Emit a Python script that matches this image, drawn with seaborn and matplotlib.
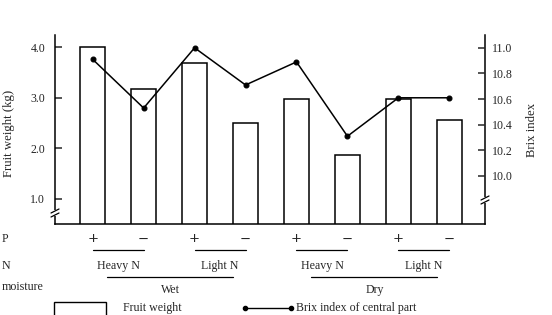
import matplotlib
matplotlib.use("Agg")
import matplotlib.pyplot as plt
import matplotlib.transforms as mtransforms
from matplotlib.patches import Rectangle
from matplotlib.lines import Line2D
import seaborn as sns
import pandas as pd
import numpy as np

# ---- data ----
categories = ["Wet-HeavyN-P+", "Wet-HeavyN-P-", "Wet-LightN-P+", "Wet-LightN-P-",
              "Dry-HeavyN-P+", "Dry-HeavyN-P-", "Dry-LightN-P+", "Dry-LightN-P-"]
fruit_weight = [4.00, 3.18, 3.69, 2.49, 2.97, 1.86, 2.97, 2.56]
brix_index = [10.91, 10.53, 11.00, 10.71, 10.89, 10.31, 10.61, 10.61]
p_labels = ["+", "−", "+", "−", "+", "−", "+", "−"]
n_labels = ["Heavy N", "Light N", "Heavy N", "Light N"]
moisture_labels = ["Wet", "Dry"]
left_ticks = [1.0, 2.0, 3.0, 4.0]
right_ticks = [10.0, 10.2, 10.4, 10.6, 10.8, 11.0]

df = pd.DataFrame({"cat": categories, "weight": fruit_weight, "brix": brix_index})

sns.set_style("white")
plt.rcParams["font.family"] = ["Liberation Serif", "DejaVu Serif"]

FS = 8.6
W, H = 552, 315
fig = plt.figure(figsize=(W / 100, H / 100), dpi=100)
ax = fig.add_axes([55 / W, 1 - 224 / H, (485 - 55) / W, (224 - 35) / H])

sns.barplot(data=df, x="cat", y="weight", ax=ax, color="white",
            edgecolor="black", linewidth=1.1, width=0.5, order=categories)
ax.set_ylim(0.5, 4.24)
ax.set_xlim(-0.74, 7.70)
ax.set_yticks(left_ticks)
ax.set_yticklabels([f"{v:.1f}" for v in left_ticks], fontsize=FS)
ax.set_xticks([])
ax.set_xlabel("")
ax.set_ylabel("Fruit weight (kg)", fontsize=9.2)
ax.yaxis.set_label_coords(-0.094, 0.48)
ax.tick_params(axis="y", direction="in", length=5, width=1.1, pad=7, left=True)
for s in ["left", "bottom", "right"]:
    ax.spines[s].set_visible(True)
    ax.spines[s].set_linewidth(1.1)
    ax.spines[s].set_color("black")
ax.spines["top"].set_visible(False)

ax2 = ax.twinx()
sns.pointplot(data=df, x="cat", y="brix", ax=ax2, color="black",
              markers="o", markersize=3.5, linewidth=1.1, order=categories)
ax2.set_ylim(9.625, 11.10)
ax2.set_xlim(-0.74, 7.70)
ax2.set_yticks(right_ticks)
ax2.set_yticklabels([f"{v:.1f}" for v in right_ticks], fontsize=FS)
ax2.set_ylabel("Brix index", fontsize=9.2)
ax2.yaxis.set_label_coords(1.095, 0.5)
ax2.tick_params(axis="y", direction="in", length=5, width=1.1, pad=5, right=True)
for s in ax2.spines.values():
    s.set_visible(False)
ax2.set_xlabel("")

# axis breaks
def fx(px):
    return px / W

def fy(py):
    return 1 - py / H

for (xp, yp) in [(55, 213), (485, 200)]:
    fig.patches.append(Rectangle((fx(xp - 3), fy(yp + 3)), 6 / W, 6 / H,
                                 transform=fig.transFigure, facecolor="white",
                                 edgecolor="none", zorder=5))
    for dy in (-2, 2):
        fig.lines.append(Line2D([fx(xp - 4), fx(xp + 4)],
                                [fy(yp + dy + 2), fy(yp + dy - 2)],
                                transform=fig.transFigure, color="black",
                                linewidth=0.9, zorder=6))

# category table under the axis
tr = mtransforms.blended_transform_factory(ax.transData, fig.transFigure)
for i, lab in enumerate(p_labels):
    fig.text(i, fy(239), lab, transform=tr, ha="center", va="center", fontsize=9.5,
             family=["DejaVu Sans"])
for k in range(4):
    fig.lines.append(Line2D([2 * k, 2 * k + 1], [fy(250), fy(250)],
                            transform=tr, color="black", linewidth=0.9))
    fig.text(2 * k + 0.5, fy(266), n_labels[k], transform=tr, ha="center",
             va="center", fontsize=FS)
for k in range(2):
    fig.lines.append(Line2D([4 * k + 0.28, 4 * k + 2.75], [fy(277), fy(277)],
                            transform=tr, color="black", linewidth=0.9))
    fig.text(4 * k + 1.53, fy(290), moisture_labels[k], transform=tr, ha="center",
             va="center", fontsize=FS)

fig.text(fx(2), fy(239), "P", ha="left", va="center", fontsize=FS)
fig.text(fx(2), fy(266), "N", ha="left", va="center", fontsize=FS)
fig.text(fx(2), fy(287), "moisture", ha="left", va="center", fontsize=FS)

# legend
fig.patches.append(Rectangle((fx(54), fy(316)), 52 / W, 14 / H,
                             transform=fig.transFigure, facecolor="white",
                             edgecolor="black", linewidth=1.0))
fig.text(fx(123), fy(308), "Fruit weight", ha="left", va="center", fontsize=FS)
fig.lines.append(Line2D([fx(245), fx(291)], [fy(308), fy(308)],
                        transform=fig.transFigure, color="black", linewidth=1.0,
                        marker="o", markersize=3))
fig.text(fx(296), fy(308), "Brix index of central part", ha="left", va="center",
         fontsize=FS)

fig.savefig("out.png", dpi=100)
